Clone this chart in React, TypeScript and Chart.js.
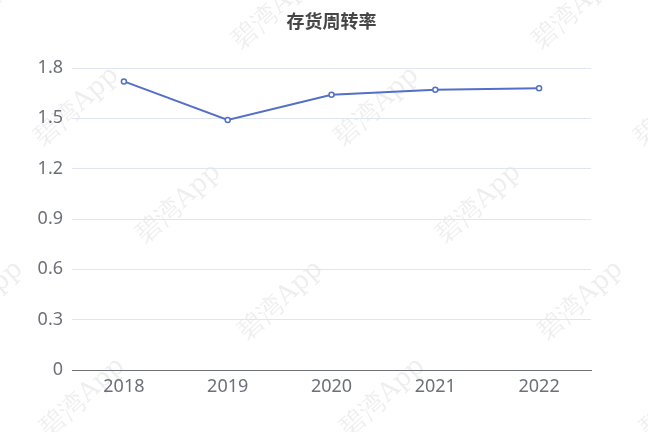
import React, { useEffect, useRef } from "react";
import { Chart, registerables } from "chart.js";

Chart.register(...registerables);

const titleText = "存货周转率";
const categories = ["2018", "2019", "2020", "2021", "2022"];
const turnover = [1.72, 1.49, 1.64, 1.67, 1.68];
const yTickValues = [0, 0.3, 0.6, 0.9, 1.2, 1.5, 1.8];
const watermarkText = "碧湾App";

const titlePlugin = {
  id: "centerTitle",
  afterDraw(chart: any) {
    const { ctx, chartArea } = chart;
    ctx.save();
    ctx.font = "bold 18px 'Noto Sans CJK SC', sans-serif";
    ctx.fillStyle = "#464646";
    ctx.textAlign = "center";
    ctx.textBaseline = "middle";
    ctx.fillText(titleText, (chartArea.left + chartArea.right) / 2, 21);
    ctx.restore();
  },
};

const watermarkPlugin = {
  id: "watermark",
  beforeDraw(chart: any) {
    const { ctx, width, height } = chart;
    ctx.save();
    ctx.fillStyle = "rgba(0,0,0,0.065)";
    ctx.font = "26px 'DejaVu Serif', 'Liberation Serif', serif";
    ctx.textAlign = "center";
    ctx.textBaseline = "middle";
    for (let j = 0; j < 6; j++) {
      const y = 10 + j * 97;
      for (let i = -2; i < 4; i++) {
        const x = 275 + i * 300 + j * 102;
        if (x < -80 || x > width + 80 || y > height + 60) continue;
        ctx.save();
        ctx.translate(x, y);
        ctx.rotate(-Math.PI / 4.2);
        ctx.fillText(watermarkText, 0, 0);
        ctx.restore();
      }
    }
    ctx.restore();
  },
};

export default function App() {
  const ref = useRef<HTMLCanvasElement>(null);
  useEffect(() => {
    document.body.style.margin = "0";
    const chart = new Chart(ref.current as HTMLCanvasElement, {
      type: "line",
      data: {
        labels: categories,
        datasets: [
          {
            data: turnover,
            borderColor: "#5470c6",
            backgroundColor: "#ffffff",
            borderWidth: 2,
            pointRadius: 2.5,
            pointBorderWidth: 1.5,
            pointBorderColor: "#5470c6",
            pointBackgroundColor: "#ffffff",
            tension: 0,
          },
        ],
      },
      options: {
        animation: false,
        responsive: false,
        maintainAspectRatio: false,
        layout: { padding: { top: 68, right: 57, left: 0, bottom: 0 } },
        plugins: {
          legend: { display: false },
          title: { display: false },
          tooltip: { enabled: false },
        },
        scales: {
          x: {
            offset: true,
            grid: { display: false, drawTicks: false },
            border: { display: true, color: "#6e7079", width: 1 },
            ticks: {
              color: "#6e7079",
              font: { size: 18, family: "'Noto Sans', sans-serif" },
              padding: 6,
              maxRotation: 0,
            },
            afterFit(axis: any) {
              axis.height = 62;
            },
          },
          y: {
            min: 0,
            max: 1.8,
            afterBuildTicks(axis: any) {
              axis.ticks = yTickValues.map((v) => ({ value: v }));
            },
            grid: { color: "#e0e6f1", drawTicks: false, lineWidth: 1 },
            border: { display: false },
            ticks: {
              color: "#6e7079",
              font: { size: 18, family: "'Noto Sans', sans-serif" },
              padding: 9,
              callback: (v: any) => String(Number(Number(v).toFixed(1))),
            },
            afterFit(axis: any) {
              axis.width = 72;
            },
          },
        },
      },
      plugins: [watermarkPlugin, titlePlugin],
    });
    return () => chart.destroy();
  }, []);
  return (
    <div style={{ width: 648, height: 432, position: "relative", background: "#fff" }}>
      <canvas ref={ref} width={648} height={432} style={{ width: 648, height: 432, display: "block" }} />
    </div>
  );
}
